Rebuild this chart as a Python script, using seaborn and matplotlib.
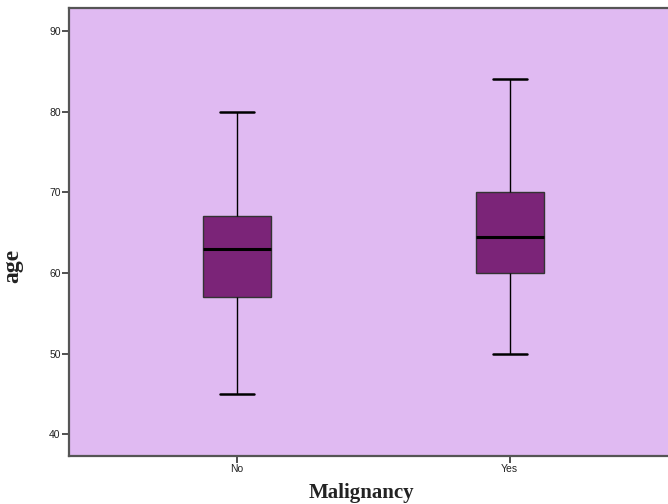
import matplotlib
matplotlib.use("Agg")
import matplotlib.pyplot as plt
import seaborn as sns
import pandas as pd

# Five-number summaries (min, Q1, median, Q3, max)
categories = ["No", "Yes"]
no_values = [45, 57, 63, 67, 80]
yes_values = [50, 60, 64.5, 70, 84]
y_ticks = [40, 50, 60, 70, 80, 90]

df = pd.DataFrame({
    "Malignancy": ["No"] * len(no_values) + ["Yes"] * len(yes_values),
    "age": no_values + yes_values,
})

sns.set_theme(style="white")
plt.rcParams["font.family"] = ["Liberation Sans", "DejaVu Sans"]

fig = plt.figure(figsize=(6.68, 5.04), dpi=100)
ax = fig.add_axes([69 / 668, 48 / 504, 599 / 668, 448.5 / 504])
ax.set_facecolor("#E0BAF2")

sns.boxplot(
    data=df, x="Malignancy", y="age", order=categories, ax=ax,
    width=0.25, color="#7B2478", saturation=1, whis=1.5,
    linewidth=1.0, linecolor="#222222",
    medianprops={"color": "black", "linewidth": 2.2},
    whiskerprops={"color": "black", "linewidth": 1.0},
    capprops={"color": "black", "linewidth": 1.8},
    boxprops={"edgecolor": "#333333", "linewidth": 1.0},
)

ax.set_xlim(-0.615, 1.58)
ax.set_ylim(37.3, 92.9)
ax.set_yticks(y_ticks)
ax.set_yticklabels([str(t) for t in y_ticks])

for side in ["left", "bottom", "top"]:
    ax.spines[side].set_color("#555555")
    ax.spines[side].set_linewidth(1.6)
ax.spines["right"].set_visible(False)

ax.tick_params(axis="both", which="both", direction="out", length=5, width=1.2,
               color="#333333", labelsize=7.5, labelcolor="#222222", pad=1,
               left=True, bottom=True)

ax.set_xlabel("Malignancy", fontsize=15, fontweight="bold",
              family=["Liberation Serif"], color="#222222")
ax.set_ylabel("age", fontsize=17, fontweight="bold",
              family=["Liberation Serif"], color="#222222")
ax.xaxis.set_label_coords(0.4875, -0.060)
ax.yaxis.set_label_coords(-0.077, 0.424)

fig.savefig("out.png", dpi=100)
